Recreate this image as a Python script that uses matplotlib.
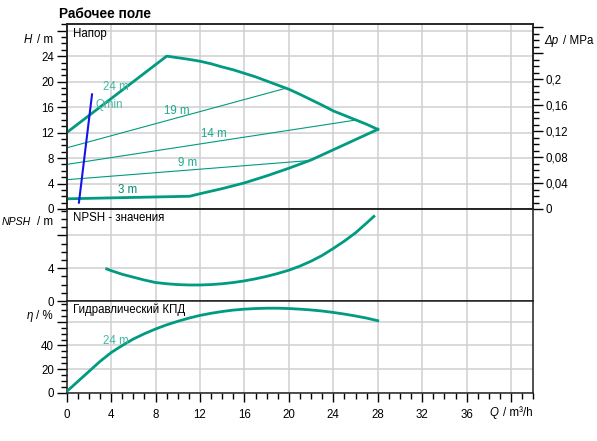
import matplotlib
matplotlib.use("Agg")
import matplotlib.pyplot as plt
from matplotlib.ticker import MultipleLocator, FixedLocator

plt.rcParams['font.family'] = ['Liberation Sans', 'DejaVu Sans']

# --- data ---
# head curves, Q in m3/h, H in m
q_max = [0, 9, 10, 11, 12, 13, 14, 15, 16, 17, 18, 19, 20, 21, 22, 23, 24, 25, 26, 27, 28]
h_max = [12.0, 24.0, 23.75, 23.5, 23.2, 22.8, 22.3, 21.85, 21.3, 20.75, 20.1, 19.45,
         18.8, 18.0, 17.15, 16.3, 15.4, 14.7, 14.0, 13.3, 12.5]
q_min = [0, 11.06, 12, 13, 14, 15, 16, 17, 18, 19, 20, 21, 22, 23, 24, 25, 26, 27, 28]
h_min = [1.6, 2.0, 2.4, 2.8, 3.2, 3.65, 4.1, 4.65, 5.2, 5.8, 6.4, 7.05, 7.7, 8.5, 9.3,
         10.1, 10.9, 11.7, 12.5]
q_19 = [0, 19.6]
h_19 = [9.6, 18.9]
q_14 = [0, 26.15]
h_14 = [7.0, 14.0]
q_9 = [0, 21.8]
h_9 = [4.6, 7.6]
q_qmin = [1.1, 2.28]
h_qmin = [1.0, 18.0]

# NPSH values
q_npsh = [3.6, 4, 5, 6, 7, 8, 9, 10, 11, 12, 13, 14, 15, 16, 17, 18, 19, 20, 21, 22,
          23, 24, 25, 26, 27, 27.65]
npsh = [3.9, 3.7, 3.25, 2.9, 2.55, 2.25, 2.1, 2.0, 1.95, 1.95, 2.0, 2.1, 2.25, 2.45,
        2.7, 3.0, 3.35, 3.75, 4.25, 4.85, 5.55, 6.4, 7.3, 8.3, 9.5, 10.3]

# hydraulic efficiency, %
q_eta = [0, 1, 2, 3, 4, 5, 6, 7, 8, 9, 10, 11, 12, 13, 14, 15, 16, 17, 18, 19, 20,
         21, 22, 23, 24, 25, 26, 27, 28]
eta = [1, 9.5, 18, 26.5, 34, 40, 45.5, 50, 54, 57.5, 60.5, 63.2, 65.5, 67.3, 68.8, 70,
       70.8, 71.3, 71.6, 71.6, 71.3, 70.8, 70.1, 69.2, 68, 66.6, 65, 63.2, 61]

# curve labels: (text, Q, value)
head_labels = [("24 m", 3.3, 19.1), ("Qmin", 2.55, 16.4), ("19 m", 8.75, 15.4),
               ("14 m", 12.05, 11.7), ("9 m", 10.0, 7.3), ("3 m", 4.65, 3.0)]

x_ticks = [0, 4, 8, 12, 16, 20, 24, 28, 32, 36, 40]
x_tick_labels = ["0", "4", "8", "12", "16", "20", "24", "28", "32", "36", ""]
h_ticks = [0, 4, 8, 12, 16, 20, 24, 28]
h_tick_labels = ["0", "4", "8", "12", "16", "20", "24", ""]
dp_ticks = [0, 0.04, 0.08, 0.12, 0.16, 0.2, 0.24, 0.28]
dp_tick_labels = ["0", "0,04", "0,08", "0,12", "0,16", "0,2", "", ""]
npsh_ticks = [0, 4, 8]
npsh_tick_labels = ["0", "4", ""]
eta_ticks = [0, 20, 40, 60]
eta_tick_labels = ["0", "20", "40", ""]

# --- styling ---
TEAL = '#009b80'
TEAL_TXT = '#1fa88e'
TEAL_LIGHT = '#45b8a3'
BLUE = '#1414e6'
GRID = '#cfcfcf'
FS = 8.3

W, H = 597, 441


def fx(px):
    return px / W


def fy(py):
    return 1 - py / H


def unit_label(sym_left, sym, unit_right, unit, y, fs=FS):
    """italic quantity symbol + upright unit, positioned in pixels"""
    fig.text(fx(sym_left), fy(y), sym, fontsize=fs, style='italic',
             ha='left', va='center')
    fig.text(fx(unit_right), fy(y), unit, fontsize=FS, ha='right', va='center')


fig = plt.figure(figsize=(W / 100, H / 100), dpi=100)

left, right = 66.7, 533.3
ax1 = fig.add_axes([fx(left), fy(209), (right - left) / W, (209 - 24.3) / H])
ax2 = fig.add_axes([fx(left), fy(301), (right - left) / W, (301 - 209) / H])
ax3 = fig.add_axes([fx(left), fy(392.7), (right - left) / W, (392.7 - 301) / H])

for ax in (ax1, ax2, ax3):
    ax.set_xlim(0, 42)
    ax.xaxis.set_major_locator(FixedLocator(x_ticks))
    ax.xaxis.set_minor_locator(MultipleLocator(1))
    ax.grid(True, which='major', color=GRID, lw=1.1, zorder=0)
    ax.set_axisbelow(True)
    for s in ax.spines.values():
        s.set_linewidth(1.1)
        s.set_color('#222222')
    ax.tick_params(which='major', direction='out', length=7.5, width=1.0,
                   labelsize=FS, pad=1.5)
    ax.tick_params(which='minor', direction='out', length=4.5, width=1.0)

for ax in (ax1, ax2):
    ax.tick_params(axis='x', which='both', length=0, labelbottom=False)

ax3.set_xticklabels(x_tick_labels)
ax3.tick_params(axis='x', which='major', length=6.5, pad=5)
ax3.tick_params(axis='x', which='minor', length=4.2)

# top panel: head
ax1.set_ylim(0, 29)
ax1.yaxis.set_major_locator(FixedLocator(h_ticks))
ax1.yaxis.set_minor_locator(MultipleLocator(1))
ax1.set_yticklabels(h_tick_labels)
ax1.plot(q_max, h_max, color=TEAL, lw=2.0, zorder=3, solid_joinstyle='round')
ax1.plot(q_min, h_min, color=TEAL, lw=2.0, zorder=3, solid_joinstyle='round')
for qq, hh in ((q_19, h_19), (q_14, h_14), (q_9, h_9)):
    ax1.plot(qq, hh, color=TEAL, lw=0.8, zorder=3)
ax1.plot(q_qmin, h_qmin, color=BLUE, lw=1.5, zorder=4)
for txt, qv, hv in head_labels:
    col = TEAL_LIGHT if txt in ("24 m", "Qmin") else TEAL_TXT
    if txt == "3 m":
        col = '#008a70'
    ax1.text(qv, hv, txt, color=col, fontsize=FS, ha='left', va='center', zorder=5)

axr = ax1.twinx()
axr.set_ylim(0, 29 / 102.0)
axr.yaxis.set_major_locator(FixedLocator(dp_ticks))
axr.yaxis.set_minor_locator(MultipleLocator(0.01))
axr.set_yticklabels(dp_tick_labels)
axr.tick_params(which='major', direction='out', length=7.5, width=1.0,
                labelsize=FS, pad=1.5)
axr.tick_params(which='minor', direction='out', length=4.5, width=1.0)
for s in axr.spines.values():
    s.set_linewidth(1.1)
    s.set_color('#222222')

# middle panel: NPSH
ax2.set_ylim(0, 11.2)
ax2.yaxis.set_major_locator(FixedLocator(npsh_ticks))
ax2.yaxis.set_minor_locator(MultipleLocator(1))
ax2.set_yticklabels(npsh_tick_labels)
ax2.plot(q_npsh, npsh, color=TEAL, lw=2.0, zorder=3, solid_joinstyle='round')

# bottom panel: efficiency
ax3.set_ylim(0, 77.7)
ax3.yaxis.set_major_locator(FixedLocator(eta_ticks))
ax3.yaxis.set_minor_locator(MultipleLocator(5))
ax3.set_yticklabels(eta_tick_labels)
ax3.plot(q_eta, eta, color=TEAL, lw=2.0, zorder=3, solid_joinstyle='round')
ax3.text(3.3, 44, "24 m", color=TEAL_LIGHT, fontsize=FS, ha='left', va='center')

# panel titles
fig.text(fx(73), fy(34), "Напор", fontsize=FS, ha='left', va='center')
fig.text(fx(73), fy(218), "NPSH - значения", fontsize=FS, ha='left', va='center')
fig.text(fx(73), fy(310), "Гидравлический КПД", fontsize=FS, ha='left', va='center')

# axis labels
unit_label(24, "H", 53, "/ m", 40)
unit_label(544, "Δp", 593, "/ MPa", 41)
unit_label(2, "NPSH", 53, "/ m", 222, fs=7.6)
unit_label(27, "η", 53, "/ %", 316)
unit_label(489, "Q", 533, "/ m³/h", 413)

fig.text(fx(59), fy(14.5), "Рабочее поле", fontsize=9.8, fontweight='bold',
         ha='left', va='center')

fig.savefig("out.png", dpi=100)
